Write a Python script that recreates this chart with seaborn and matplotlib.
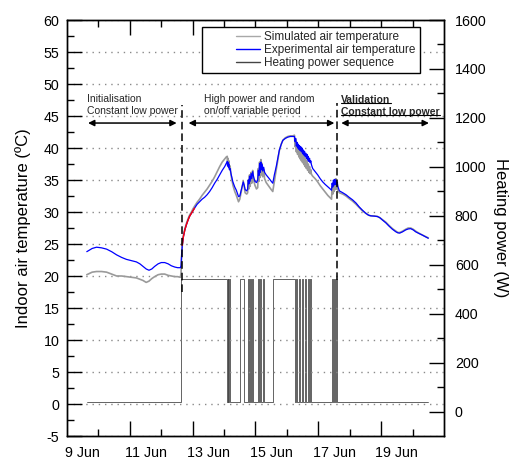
import numpy as np
import pandas as pd
import matplotlib
matplotlib.use("Agg")
import matplotlib.pyplot as plt
import seaborn as sns
from matplotlib.lines import Line2D
from matplotlib.legend_handler import HandlerBase

# ---------------- data (x = days since 9 Jun 00:00) ----------------
time_days = [0.63, 0.80, 0.94, 1.10, 1.26, 1.42, 1.58, 1.74, 1.89, 2.05, 2.21, 2.32, 2.42, 2.52, 2.61,
             2.70, 2.79, 2.90, 3.00, 3.11, 3.22, 3.32, 3.43, 3.52, 3.61,
             3.63, 3.65, 3.67, 3.70, 3.75, 3.80, 3.85, 3.90, 3.96, 4.01, 4.06, 4.14, 4.22, 4.30, 4.38,
             4.46, 4.54, 4.62, 4.70, 4.78, 4.86, 4.94, 5.02, 5.07, 5.10,
             5.11, 5.12, 5.14, 5.15, 5.17, 5.19, 5.22, 5.28, 5.34, 5.39, 5.46, 5.50, 5.56, 5.61, 5.64,
             5.67, 5.72, 5.75, 5.77, 5.79, 5.81, 5.83, 5.86, 5.88, 5.91, 5.94, 5.98, 6.03, 6.07, 6.09,
             6.11, 6.13, 6.15, 6.17, 6.19, 6.21, 6.23, 6.26, 6.29, 6.34, 6.44, 6.50, 6.55,
             6.60, 6.66, 6.71, 6.76, 6.82, 6.87, 6.95, 7.03, 7.11, 7.19, 7.24,
             7.26, 7.28, 7.30, 7.32, 7.34, 7.36, 7.38, 7.40, 7.42, 7.44, 7.46, 7.48, 7.50, 7.52, 7.54,
             7.56, 7.58, 7.60, 7.62, 7.64, 7.66, 7.68, 7.70, 7.72, 7.74, 7.76, 7.78,
             7.82, 7.90, 7.98, 8.06, 8.14, 8.22, 8.30, 8.38, 8.42,
             8.44, 8.46, 8.48, 8.50, 8.52, 8.54, 8.56, 8.58, 8.60, 8.62,
             8.67, 8.78, 8.88, 8.98, 9.09, 9.20, 9.30, 9.40, 9.51, 9.60, 9.67, 9.78, 9.88, 9.96, 10.04,
             10.15, 10.25, 10.36, 10.47, 10.53, 10.59, 10.68, 10.78, 10.86, 10.94, 11.02, 11.10, 11.20,
             11.31, 11.40, 11.50]

experimental_temp = [23.8, 24.3, 24.5, 24.4, 24.2, 23.8, 23.3, 22.9, 22.6, 22.4, 22.2, 21.9, 21.5, 21.1, 20.9,
                     21.1, 21.5, 21.9, 22.1, 22.1, 21.9, 21.6, 21.4, 21.3, 21.3,
                     21.6, 23.5, 24.8, 26.0, 27.2, 28.0, 28.7, 29.3, 29.8, 30.2, 30.6, 31.2, 31.6, 32.0, 32.3,
                     32.7, 33.2, 33.8, 34.5, 35.1, 35.8, 36.5, 37.1, 37.6, 37.9,
                     37.2, 37.8, 37.0, 37.5, 36.6, 36.8, 36.0, 34.7, 33.9, 33.4, 32.4, 32.5, 33.7, 34.7, 34.2,
                     33.5, 33.3, 33.6, 35.0, 34.4, 35.6, 34.8, 36.0, 35.2, 36.3, 35.5, 34.8, 34.6, 35.0, 36.5,
                     35.7, 37.6, 36.2, 37.8, 36.6, 37.4, 36.4, 37.0, 36.2, 35.8, 35.2, 34.8, 34.5,
                     35.8, 37.1, 38.4, 39.7, 40.6, 41.2, 41.5, 41.7, 41.8, 41.8, 41.8,
                     41.0, 41.5, 40.3, 40.9, 40.0, 40.6, 39.8, 40.4, 39.6, 40.2, 39.4, 40.0, 39.1, 39.7, 38.9,
                     39.5, 38.7, 39.2, 38.4, 39.0, 38.1, 38.7, 37.9, 38.4, 37.7, 38.0, 37.4,
                     36.8, 36.3, 35.8, 35.2, 34.7, 34.3, 33.95, 33.6, 33.4,
                     34.5, 33.9, 35.0, 34.2, 35.1, 34.3, 35.0, 34.2, 34.6, 34.0,
                     33.3, 33.0, 32.7, 32.3, 31.9, 31.4, 30.8, 30.3, 29.8, 29.5, 29.4, 29.35, 29.3, 29.1, 28.75,
                     28.3, 27.8, 27.3, 26.9, 26.75, 26.7, 26.9, 27.2, 27.35, 27.4, 27.2, 26.9, 26.65,
                     26.4, 26.15, 25.9]

simulated_temp = [20.2, 20.6, 20.7, 20.7, 20.6, 20.3, 20.0, 20.0, 19.9, 19.8, 19.7, 19.5, 19.3, 19.0, 19.2,
                  19.6, 19.9, 20.2, 20.3, 20.3, 20.1, 20.0, 19.9, 19.9, 19.8,
                  20.5, 23.0, 24.9, 26.3, 27.3, 28.2, 28.9, 29.5, 30.0, 30.5, 30.9, 31.5, 32.0, 32.6, 33.1,
                  33.6, 34.2, 34.8, 35.5, 36.3, 37.1, 37.8, 38.3, 38.6, 38.7,
                  37.5, 38.4, 37.2, 38.0, 36.8, 37.2, 35.8, 34.2, 33.2, 32.6, 31.6, 32.0, 33.5, 34.8, 34.0,
                  33.0, 32.8, 33.0, 35.0, 33.6, 35.8, 34.0, 36.2, 34.5, 36.5, 35.0, 34.2, 33.6, 33.8, 36.8,
                  34.8, 37.8, 35.4, 38.2, 35.8, 37.6, 35.5, 36.6, 35.2, 34.6, 33.9, 33.5, 33.2,
                  34.8, 36.6, 38.2, 39.6, 40.6, 41.2, 41.6, 41.8, 41.9, 41.9, 42.0,
                  40.2, 41.3, 39.4, 40.6, 39.0, 40.2, 38.6, 39.9, 38.3, 39.6, 38.0, 39.2, 37.7, 38.9, 37.4,
                  38.6, 37.1, 38.2, 36.8, 37.9, 36.5, 37.5, 36.2, 37.1, 36.0, 36.6, 35.9,
                  35.6, 35.2, 34.7, 34.1, 33.6, 33.1, 32.6, 32.2, 32.0,
                  34.0, 32.8, 34.6, 33.2, 35.0, 33.5, 35.2, 33.6, 34.8, 33.4,
                  33.0, 32.8, 32.5, 32.1, 31.7, 31.2, 30.7, 30.2, 29.8, 29.5, 29.4, 29.4, 29.3, 29.1, 28.8,
                  28.4, 27.9, 27.4, 27.0, 26.8, 26.8, 27.0, 27.3, 27.5, 27.5, 27.3, 27.0, 26.7,
                  26.4, 26.2, 25.95]

# part of the experimental curve drawn in red
red_start, red_end = 3.67, 4.06

# heating power: low / high level (W) and "on" intervals (days)
power_low, power_high = 37, 540
power_start, power_end = 0.63, 11.50
heat_on = [(3.63, 5.08), (5.12, 5.14), (5.17, 5.19),
           (5.50, 5.62),
           (5.77, 5.79), (5.84, 5.86), (5.90, 5.92),
           (6.08, 6.10), (6.15, 6.17), (6.23, 6.26),
           (6.56, 7.25),
           (7.30, 7.33), (7.40, 7.42), (7.49, 7.52), (7.58, 7.60), (7.67, 7.70), (7.74, 7.76),
           (8.43, 8.46), (8.50, 8.53), (8.57, 8.60)]

day_labels = ["9 Jun", "11 Jun", "13 Jun", "15 Jun", "17 Jun", "19 Jun"]
day_label_pos = [0.5, 2.5, 4.5, 6.5, 8.5, 10.5]

# period separators and annotation arrows
vlines_x = [3.67, 8.58]
vlines_ymin = [17.5, 19.3]
vlines_ymax = [46.7, 47.0]
arrows = [(0.67, 3.49), (3.87, 8.51), (8.73, 11.52)]
arrow_y = 43.9

# ---------------- tables ----------------
temps = pd.DataFrame({"t": time_days, "exp": experimental_temp, "sim": simulated_temp})
red_part = temps[(temps.t >= red_start) & (temps.t <= red_end)]

pt, pw = [power_start], [power_low]
for a, b in heat_on:
    pt += [a, b]
    pw += [power_high, power_low]
pt.append(power_end)
pw.append(power_low)
power = pd.DataFrame({"t": pt, "w": pw})

# ---------------- style ----------------
sns.set_theme(style="ticks")
plt.rcParams["font.family"] = ["Liberation Sans", "DejaVu Sans"]
plt.rcParams["axes.linewidth"] = 1.0
plt.rcParams["axes.edgecolor"] = "black"
plt.rcParams["axes.unicode_minus"] = False

fig = plt.figure(figsize=(5.10, 4.62), dpi=100)
ax = fig.add_axes([67 / 510, 1 - 436 / 462, 377 / 510, 416 / 462])
ax2 = ax.twinx()
ax.set_zorder(ax2.get_zorder() + 1)
ax.patch.set_visible(False)

# heating power (right axis)
sns.lineplot(data=power, x="t", y="w", ax=ax2, color="#4a4a4a", lw=0.6,
             drawstyle="steps-post", sort=False, estimator=None, legend=False)

# temperatures (left axis)
sns.lineplot(data=temps, x="t", y="sim", ax=ax, color="#9a9a9a", lw=1.2,
             sort=False, estimator=None, legend=False)
sns.lineplot(data=temps, x="t", y="exp", ax=ax, color="#0000ff", lw=0.9,
             sort=False, estimator=None, legend=False)
sns.lineplot(data=red_part, x="t", y="exp", ax=ax, color="#ff0000", lw=1.0,
             sort=False, estimator=None, legend=False)

# limits / ticks
ax.set_xlim(0, 12)
ax.set_ylim(-5, 60)
ax2.set_ylim(-100, 1600)
ax.set_xticks([2, 4, 6, 8, 10])
ax.set_xticks([1, 3, 5, 7, 9, 11], minor=True)
ax.set_yticks(np.arange(-5, 61, 5))
ax.set_yticks(np.arange(-2.5, 60, 5), minor=True)
ax2.set_yticks(np.arange(0, 1601, 200))
ax2.set_yticks(np.arange(100, 1600, 200), minor=True)

ax.tick_params(axis="both", which="major", direction="in", length=10.5, width=1.0,
               color="black", top=True, labelsize=10.3, labelcolor="black", pad=5.5)
ax.tick_params(axis="both", which="minor", direction="in", length=5.3, width=1.0,
               color="black", top=True)
ax.tick_params(axis="x", labelbottom=False)
ax2.tick_params(axis="y", which="major", direction="in", length=10.5, width=1.0,
                color="black", labelsize=10.3, labelcolor="black", pad=7.8)
ax2.tick_params(axis="y", which="minor", direction="in", length=5.3, width=1.0, color="black")
for sp in ax2.spines.values():
    sp.set_linewidth(1.0)
    sp.set_color("black")

secx = ax.secondary_xaxis("bottom")
secx.set_xticks(day_label_pos, labels=day_labels)
secx.tick_params(length=0, pad=6.9, labelsize=10.3, labelcolor="black")
secx.spines["bottom"].set_visible(False)

# dotted horizontal grid
ax.grid(axis="y", which="major", color="#8a8a8a", lw=1.0, linestyle=(0, (1, 3.5)))
ax.set_axisbelow(True)

ax.set_xlabel("")
ax.set_ylabel("Indoor air temperature (ºC)", fontsize=12, color="black")
ax.yaxis.set_label_coords(-0.095, 0.5)
ax2.set_ylabel("Heating power (W)", fontsize=12, color="black", rotation=270, va="bottom")
ax2.yaxis.set_label_coords(1.130, 0.5)

# separators and arrows
for x0, y0, y1 in zip(vlines_x, vlines_ymin, vlines_ymax):
    ax.plot([x0, x0], [y0, y1], color="black", lw=1.1, linestyle=(0, (5, 2.6)), zorder=5)
for a, b in arrows:
    ax.annotate("", xy=(b, arrow_y), xytext=(a, arrow_y),
                arrowprops=dict(arrowstyle="<|-|>", color="black", lw=1.1,
                                mutation_scale=9, shrinkA=0, shrinkB=0))

fs = 7.5
ax.text(0.63, 47.2, "Initialisation", fontsize=fs, ha="left", va="baseline")
ax.text(0.63, 45.25, "Constant low power", fontsize=fs, ha="left", va="baseline")
ax.text(4.37, 47.2, "High power and random", fontsize=fs, ha="left", va="baseline")
ax.text(4.37, 45.25, "on/off variable period", fontsize=fs, ha="left", va="baseline")
tv1 = ax.text(8.73, 47.1, "Validation", fontsize=fs, fontweight="bold", ha="left", va="baseline")
tv2 = ax.text(8.73, 45.2, "Constant low power", fontsize=fs, fontweight="bold", ha="left", va="baseline")

# legend
class RightLine(HandlerBase):
    def create_artists(self, legend, orig_handle, xdescent, ydescent, width, height, fontsize, trans):
        y = (height - ydescent) / 2
        x0 = -xdescent + 0.55 * width
        line = Line2D([x0, -xdescent + width], [y, y], color=orig_handle.get_color(),
                      lw=orig_handle.get_linewidth())
        line.set_transform(trans)
        return [line]

handles = [Line2D([], [], color="#a8a8a8", lw=1.0),
           Line2D([], [], color="#0000ff", lw=1.0),
           Line2D([], [], color="#444444", lw=1.0)]
labels = ["Simulated air temperature", "Experimental air temperature", "Heating power sequence"]
leg = ax.legend(handles, labels, loc="upper right", bbox_to_anchor=(0.936, 0.983),
                fontsize=8.5, frameon=True, fancybox=False, framealpha=1, edgecolor="black",
                handlelength=4.6, handletextpad=0.35, labelspacing=0.08, borderpad=0.35,
                borderaxespad=0, handler_map={Line2D: RightLine()})
leg.get_frame().set_linewidth(1.0)
leg.set_zorder(10)

# underline the bold "Validation" texts
fig.canvas.draw()
renderer = fig.canvas.get_renderer()
inv = fig.transFigure.inverted()
for t in (tv1, tv2):
    bb = t.get_window_extent(renderer)
    y = bb.y0 + 1.6
    (fx0, fy), (fx1, _) = inv.transform([(bb.x0, y), (bb.x1, y)])
    fig.add_artist(Line2D([fx0, fx1], [fy, fy], color="black", lw=0.8, transform=fig.transFigure))

fig.savefig("out.png", dpi=100)
